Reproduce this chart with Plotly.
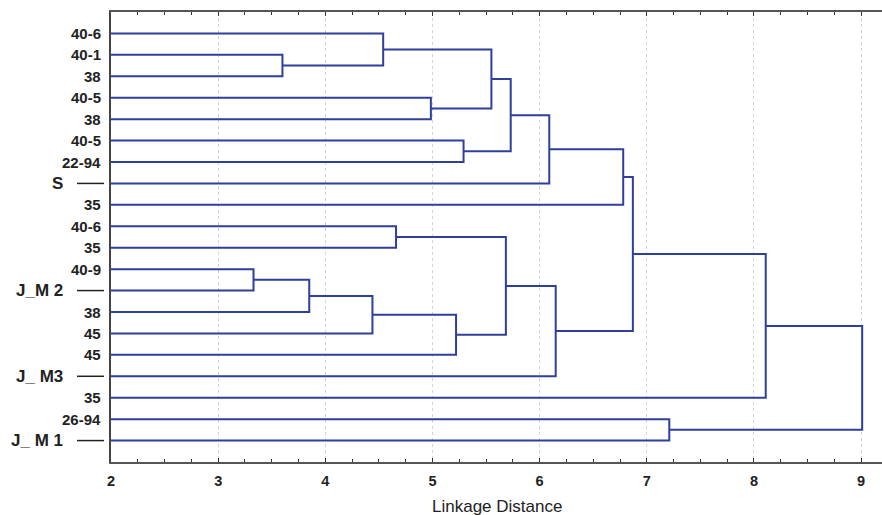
import plotly.graph_objects as go

# Leaf labels, top to bottom
leaf_labels = ["40-6", "40-1", "38", "40-5", "38", "40-5", "22-94", "S", "35",
               "40-6", "35", "40-9", "J_M 2", "38", "45", "45", "J_ M3", "35",
               "26-94", "J_ M 1"]
# Leaves that carry a larger label with a marker dash
marked_leaves = [7, 12, 16, 19]

# Agglomeration steps: (child a, child b, linkage distance); new clusters get ids 20, 21, ...
merge_a = [1, 0, 3, 21, 5, 23, 25, 26, 11, 28, 29, 30, 9, 32, 33, 27, 35, 18, 36]
merge_b = [2, 20, 4, 22, 6, 24, 7, 8, 12, 13, 14, 15, 10, 31, 16, 34, 17, 19, 37]
merge_dist = [3.60, 4.54, 4.985, 5.55, 5.29, 5.73, 6.09, 6.78, 3.33, 3.85, 4.44,
              5.22, 4.66, 5.685, 6.15, 6.87, 8.11, 7.21, 9.01]

x_ticks = [2, 3, 4, 5, 6, 7, 8, 9]
x_min, x_max = 2, 9.195

n = len(leaf_labels)
pos = {i: (x_min, float(i)) for i in range(n)}
xs, ys = [], []
for k, (a, b, d) in enumerate(zip(merge_a, merge_b, merge_dist)):
    xa, ya = pos[a]
    xb, yb = pos[b]
    xs += [xa, d, d, xb, None]
    ys += [ya, ya, yb, yb, None]
    pos[n + k] = (d, (ya + yb) / 2)

LINE = "#2f3f9e"
fig = go.Figure(go.Scatter(x=xs, y=ys, mode="lines",
                           line=dict(color=LINE, width=2), hoverinfo="skip",
                           showlegend=False))

W, H = 882, 515
ml, mr, mt, mb = 111, 0, 12, 53
pw = W - ml - mr

annotations = []
shapes = []
for i, lab in enumerate(leaf_labels):
    if i in marked_leaves:
        annotations.append(dict(x=(65 - ml) / pw, xref="paper", y=i, yref="y",
                                text=lab, showarrow=False, xanchor="right",
                                yanchor="middle",
                                font=dict(family="Liberation Sans", size=17,
                                          color="#222", weight="bold")))
        shapes.append(dict(type="line", xref="paper", yref="y",
                           x0=(77 - ml) / pw, x1=(104 - ml) / pw, y0=i, y1=i,
                           line=dict(color="#222", width=1.5)))
    else:
        annotations.append(dict(x=(103 - ml) / pw, xref="paper", y=i, yref="y",
                                text=lab, showarrow=False, xanchor="right",
                                yanchor="middle",
                                font=dict(family="Liberation Sans", size=15,
                                          color="#222", weight="bold")))

annotations.append(dict(x=0.5, xref="paper", y=-(506 - 462) / 450, yref="paper",
                        text="Linkage Distance", showarrow=False,
                        xanchor="center", yanchor="middle",
                        font=dict(family="Liberation Sans", size=17, color="#222")))

fig.update_layout(
    width=W, height=H,
    margin=dict(l=ml, r=mr, t=mt, b=mb),
    paper_bgcolor="white", plot_bgcolor="white",
    annotations=annotations, shapes=shapes,
    xaxis=dict(range=[x_min, x_max], tickvals=x_ticks,
               ticktext=[str(t) for t in x_ticks],
               ticks="inside", ticklen=4, tickcolor="#333",
               showline=True, linecolor="#555", linewidth=1.5, mirror="ticks",
               showgrid=True, gridcolor="#d4d4d4", griddash="dot", gridwidth=1,
               zeroline=False, ticklabelstandoff=5,
               tickfont=dict(family="Liberation Sans", size=14.5, color="#222",
                             weight="bold"),
               minor=dict(dtick=0.25, ticks="inside", ticklen=3,
                          tickcolor="#333", showgrid=False)),
    yaxis=dict(range=[20, -1], showticklabels=False, ticks="",
               showline=True, linecolor="#444", linewidth=1.5,
               showgrid=False, zeroline=False),
)

fig.write_html("out.html")
